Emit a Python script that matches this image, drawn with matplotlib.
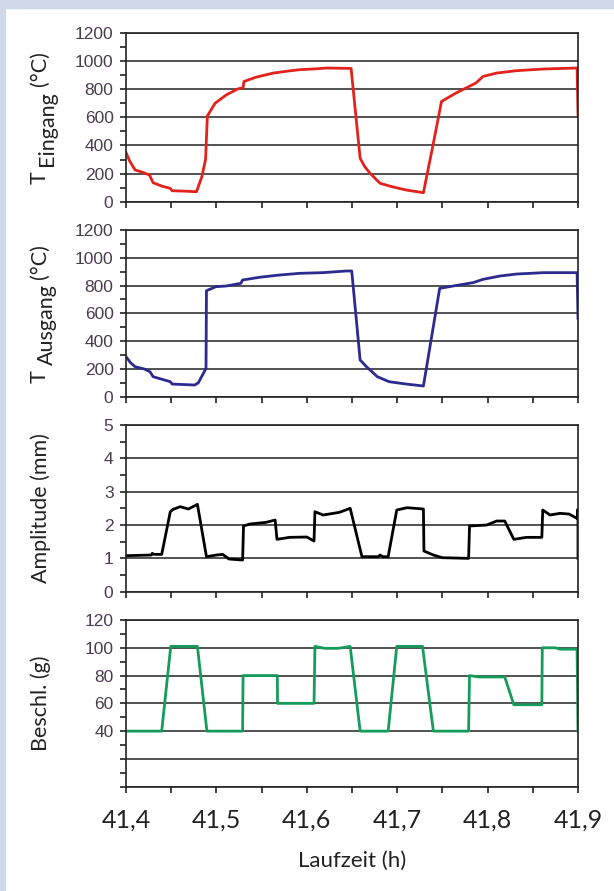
import matplotlib.pyplot as plt
from matplotlib.patches import Rectangle
from matplotlib.transforms import IdentityTransform
from matplotlib.ticker import MultipleLocator, FuncFormatter
import numpy as np

# --- data (time in h) ---
t_ein = [41.400, 41.404, 41.410, 41.418, 41.426, 41.430, 41.440, 41.449, 41.451, 41.465,
         41.478, 41.484, 41.488, 41.490, 41.4985, 41.511, 41.524, 41.5295, 41.5305, 41.544,
         41.563, 41.580, 41.592, 41.610, 41.622, 41.649, 41.659, 41.664, 41.670, 41.681,
         41.694, 41.710, 41.729, 41.740, 41.749, 41.765, 41.787, 41.795, 41.810, 41.832,
         41.862, 41.899, 41.900]
T_ein = [350, 290, 226, 210, 190, 135, 110, 95, 78, 75,
         71, 180, 300, 610, 700, 760, 803, 810, 855, 886,
         915, 930, 939, 945, 951, 948, 309, 250, 202, 131,
         107, 83, 64, 416, 713, 773, 844, 891, 915, 932,
         944, 951, 620]

t_aus = [41.400, 41.405, 41.410, 41.420, 41.4265, 41.430, 41.440, 41.449, 41.451, 41.476,
         41.480, 41.4885, 41.489, 41.4995, 41.511, 41.527, 41.529, 41.548, 41.570, 41.592,
         41.618, 41.644, 41.6497, 41.659, 41.666, 41.678, 41.691, 41.710, 41.729, 41.747,
         41.762, 41.784, 41.795, 41.814, 41.832, 41.862, 41.899, 41.900]
T_aus = [288, 245, 216, 200, 180, 144, 125, 108, 91, 84,
         100, 204, 763, 792, 797, 816, 840, 860, 876, 888,
         893, 905, 905, 264, 216, 144, 108, 91, 77, 780,
         797, 821, 845, 869, 883, 893, 893, 564]

t_amp = [41.400, 41.428, 41.429, 41.431, 41.4395, 41.449, 41.452, 41.460, 41.469, 41.479,
         41.489, 41.500, 41.507, 41.514, 41.529, 41.530, 41.537, 41.555, 41.565, 41.567,
         41.581, 41.600, 41.608, 41.609, 41.618, 41.636, 41.648, 41.661, 41.679, 41.681,
         41.684, 41.690, 41.6995, 41.711, 41.729, 41.7296, 41.740, 41.750, 41.779, 41.780,
         41.799, 41.810, 41.819, 41.829, 41.843, 41.860, 41.861, 41.869, 41.880, 41.890,
         41.899, 41.900, 41.900]
amp = [1.08, 1.10, 1.15, 1.12, 1.12, 2.40, 2.47, 2.55, 2.48, 2.62,
       1.05, 1.10, 1.12, 0.98, 0.95, 1.97, 2.03, 2.08, 2.15, 1.57,
       1.63, 1.64, 1.52, 2.40, 2.30, 2.38, 2.50, 1.05, 1.05, 1.10,
       1.05, 1.05, 2.45, 2.52, 2.48, 1.22, 1.10, 1.02, 1.00, 1.97,
       2.00, 2.12, 2.12, 1.57, 1.63, 1.63, 2.45, 2.30, 2.35, 2.33,
       2.20, 2.48, 1.00]

t_acc = [41.400, 41.4395, 41.4495, 41.479, 41.4895, 41.529, 41.5295, 41.5674, 41.5676, 41.608,
         41.609, 41.620, 41.635, 41.648, 41.659, 41.690, 41.6995, 41.728, 41.740, 41.779,
         41.780, 41.790, 41.819, 41.829, 41.860, 41.8605, 41.875, 41.880, 41.899, 41.900]
acc = [40, 40, 101, 101, 40, 40, 80, 80, 60, 60,
       101, 99.6, 99.6, 101, 40, 40, 101, 101, 40, 40,
       80, 79, 79, 59, 59, 100, 100, 99, 99, 40]

x_ticks = [41.4, 41.5, 41.6, 41.7, 41.8, 41.9]

W, H = 614, 891
fig = plt.figure(figsize=(W / 100, H / 100), dpi=100)
fig.patch.set_facecolor('white')
bg = '#cfd8e6'
fig.patches.append(Rectangle((0, 1 - 8 / H), 1, 8 / H, transform=fig.transFigure, color=bg, zorder=0))
fig.patches.append(Rectangle((0, 0), 5 / W, 1, transform=fig.transFigure, color=bg, zorder=0))

tick_font = 'Liberation Sans'
lab_font = 'Lato'
tick_col = '#4a3c4c'
left_px, right_px = 126, 578


def panel(top_px, bot_px, ylim, major, minor, lab_min=None):
    ax = fig.add_axes([left_px / W, 1 - bot_px / H, (right_px - left_px) / W, (bot_px - top_px) / H])
    ax.set_xlim(41.4, 41.9)
    ax.set_ylim(*ylim)
    ax.yaxis.set_major_locator(MultipleLocator(major))
    ax.yaxis.set_minor_locator(MultipleLocator(minor))
    if lab_min is not None:
        ax.yaxis.set_major_formatter(FuncFormatter(lambda v, p: '' if v < lab_min - 1e-6 else '%g' % v))
    else:
        ax.yaxis.set_major_formatter(FuncFormatter(lambda v, p: '%g' % v))
    ax.xaxis.set_major_locator(MultipleLocator(0.1))
    ax.xaxis.set_minor_locator(MultipleLocator(0.05))
    ax.tick_params(axis='both', which='both', direction='out', length=4, width=1.2, color='#222')
    ax.tick_params(axis='y', labelsize=12.5, labelcolor=tick_col, pad=5)
    ax.tick_params(axis='x', labelbottom=False)
    for lab in ax.get_yticklabels():
        lab.set_family(tick_font)
    ax.yaxis.grid(True, which='major', color='#222', lw=1.1)
    for s in ax.spines.values():
        s.set_color('#222')
        s.set_linewidth(1.2)
    return ax


ax1 = panel(33, 201.7, (0, 1200), 200, 100)
ax1.plot(t_ein, T_ein, color='#e3221c', lw=2.0)

ax2 = panel(230, 396.7, (0, 1200), 200, 100)
ax2.plot(t_aus, T_aus, color='#2c2a8e', lw=2.0)

ax3 = panel(425, 591.7, (0, 5), 1, 0.5)
ax3.plot(t_amp, amp, color='black', lw=2.0)

ax4 = panel(620, 786.7, (0, 120), 20, 10, lab_min=40)
ax4.plot(t_acc, acc, color='#169c5a', lw=2.0)
ax4.tick_params(axis='x', labelbottom=True, labelsize=18, labelcolor='#222', pad=12)
ax4.set_xticks(x_ticks)
ax4.set_xticklabels([('%.1f' % v).replace('.', ',') for v in x_ticks], family=lab_font)
for lab in ax4.get_yticklabels():
    lab.set_family(tick_font)

fig.text(352 / W, 1 - 861 / H, 'Laufzeit (h)', family=lab_font, fontsize=16, color='#222',
         ha='center', va='center')

# y labels
renderer = fig.canvas.get_renderer()
lab_x = 46


def ylab_plain(text, top_px, bot_px):
    fig.text((lab_x - 5) / W, 1 - (top_px + bot_px) / 2 / H, text, rotation=90, family=lab_font,
             fontsize=15.5, color='#222', ha='center', va='center')


def ylab_sub(main, sub, unit, top_px, bot_px):
    kw = dict(rotation=90, rotation_mode='anchor', ha='left', va='baseline', family=lab_font,
              fontsize=15.5, color='#222', transform=IdentityTransform())
    gap = 5
    pieces = []
    for s, dx in [(main, 0), (sub, 7), (unit, 0)]:
        tt = fig.text(0, 0, s, **kw)
        pieces.append((tt, dx, tt.get_window_extent(renderer).height))
    total = sum(p[2] for p in pieces) + gap * (len(pieces) - 1)
    y = H - (top_px + bot_px) / 2 - total / 2
    for tt, dx, h in pieces:
        tt.set_position((lab_x + dx, y))
        y += h + gap


ylab_sub('T', 'Eingang', '(°C)', 33, 201.7)
ylab_sub('T', 'Ausgang', '(°C)', 230, 396.7)
ylab_plain('Amplitude (mm)', 425, 591.7)
ylab_plain('Beschl. (g)', 620, 786.7)

fig.savefig('out.png', dpi=100)
